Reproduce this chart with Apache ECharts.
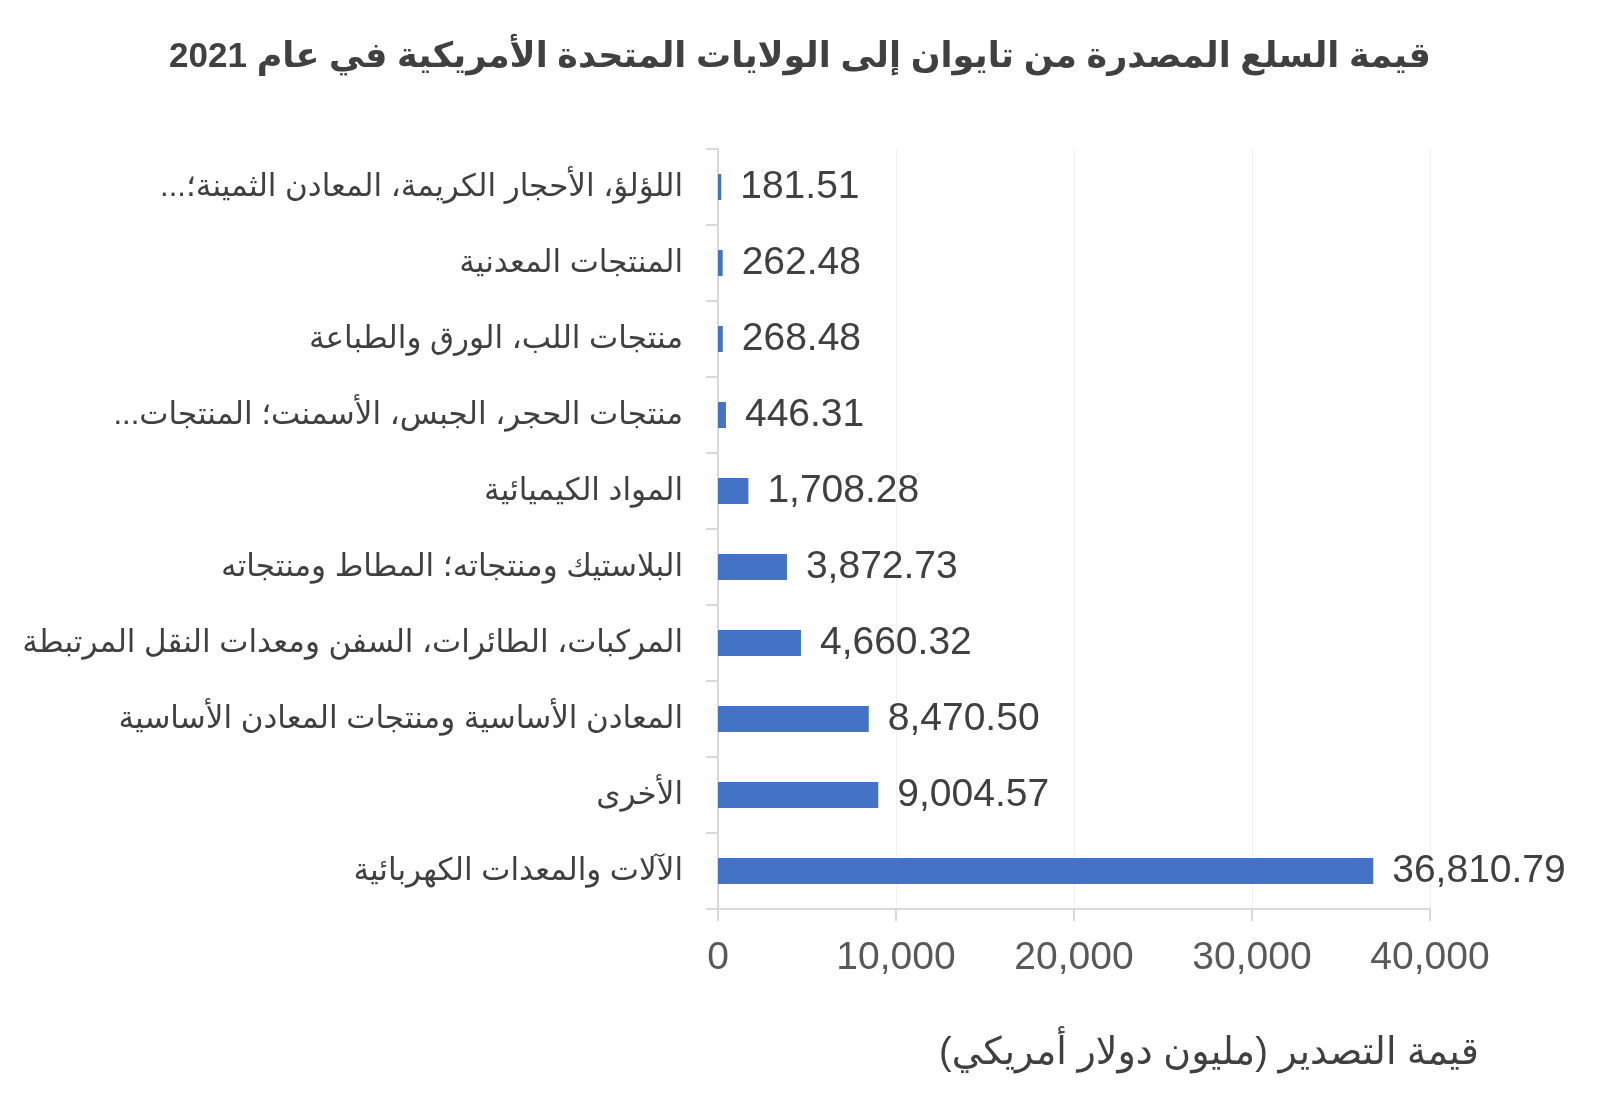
<!DOCTYPE html>
<html>
<head>
<meta charset="utf-8">
<script src="https://cdn.jsdelivr.net/npm/echarts@6/dist/echarts.min.js"></script>
<style>
  html, body { margin: 0; padding: 0; background: #fff; }
  #chart { width: 1600px; height: 1116px; }
</style>
</head>
<body>
<div id="chart"></div>
<script>
var RLM = '\u200F'

// categories, top to bottom
var categories = [
  'اللؤلؤ، الأحجار الكريمة، المعادن الثمينة؛...' + RLM,
  'المنتجات المعدنية',
  'منتجات اللب، الورق والطباعة',
  'منتجات الحجر، الجبس، الأسمنت؛ المنتجات...' + RLM,
  'المواد الكيميائية',
  'البلاستيك ومنتجاته؛ المطاط ومنتجاته',
  'المركبات، الطائرات، السفن ومعدات النقل المرتبطة',
  'المعادن الأساسية ومنتجات المعادن الأساسية',
  'الأخرى',
  'الآلات والمعدات الكهربائية'
]
var values = [181.51, 262.48, 268.48, 446.31, 1708.28, 3872.73, 4660.32, 8470.50, 9004.57, 36810.79]
var xTicks = [0, 10000, 20000, 30000, 40000]

var titleText = 'قيمة السلع المصدرة من تايوان إلى الولايات المتحدة الأمريكية في عام 2021'
var axisTitle = 'قيمة التصدير (مليون دولار أمريكي)' + RLM

var font = '"Liberation Sans", "DejaVu Sans", Arial, sans-serif'
var textColor = '#404040'

function fmt (v) {
  return v.toLocaleString('en-US', { minimumFractionDigits: 2, maximumFractionDigits: 2 })
}

var chart = echarts.init(document.getElementById('chart'))
chart.setOption({
  animation: false,
  backgroundColor: '#fff',
  title: [
    {
      text: titleText,
      left: 'center',
      top: 35,
      textStyle: { fontFamily: font, fontSize: 35, fontWeight: 'bold', color: textColor }
    },
    {
      text: axisTitle,
      right: 116,
      top: 1030,
      textStyle: { fontFamily: font, fontSize: 38, fontWeight: 'normal', color: textColor }
    }
  ],
  grid: { left: 718, right: 170, top: 149, bottom: 207, containLabel: false },
  xAxis: {
    type: 'value',
    min: xTicks[0],
    max: xTicks[xTicks.length - 1],
    interval: 10000,
    axisLine: { show: true, lineStyle: { color: '#d9d9d9', width: 2 } },
    axisTick: { show: true, length: 12, lineStyle: { color: '#d9d9d9', width: 2 } },
    splitLine: { show: true, lineStyle: { color: '#f0f0f0', width: 1 } },
    axisLabel: {
      margin: 30,
      fontFamily: font,
      fontSize: 39,
      color: '#595959',
      formatter: function (v) { return v.toLocaleString('en-US') }
    }
  },
  yAxis: {
    type: 'category',
    inverse: true,
    data: categories,
    axisLine: { show: true, lineStyle: { color: '#d9d9d9', width: 2 } },
    axisTick: { show: true, length: 12, lineStyle: { color: '#d9d9d9', width: 2 } },
    axisLabel: {
      margin: 35,
      fontFamily: font,
      fontSize: 31,
      color: textColor
    }
  },
  series: [{
    type: 'bar',
    data: values,
    barWidth: 26,
    itemStyle: { color: '#4472C4' },
    label: {
      show: true,
      position: 'right',
      distance: 19,
      fontFamily: font,
      fontSize: 39,
      color: textColor,
      formatter: function (p) { return fmt(p.value) }
    }
  }]
})
</script>
</body>
</html>
